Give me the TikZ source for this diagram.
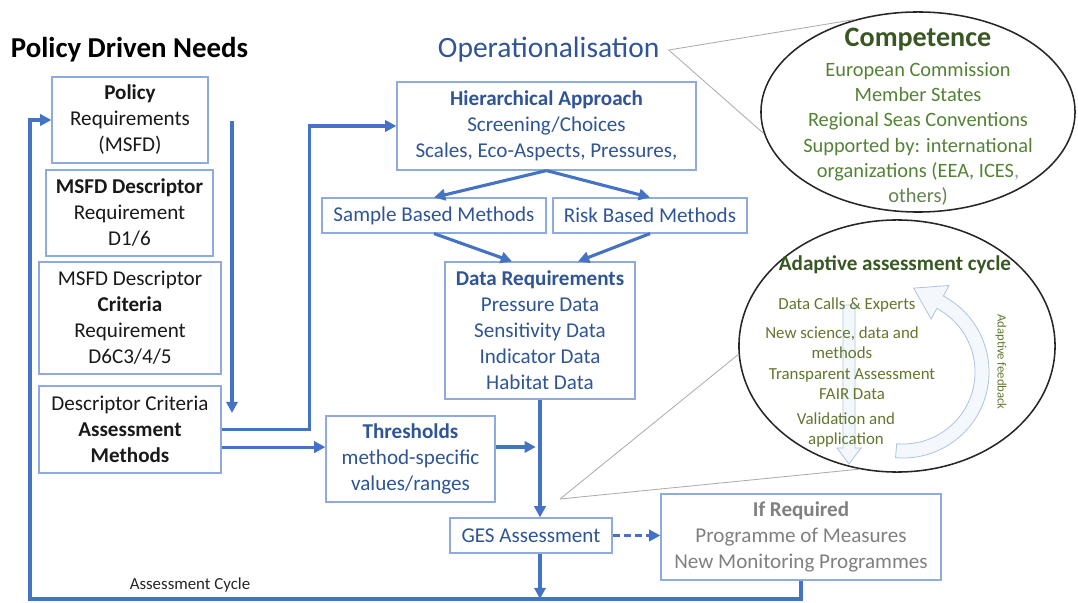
\documentclass[tikz,border=0pt]{standalone}
\usepackage{fontspec}
\setmainfont{Carlito}
\usetikzlibrary{arrows.meta, shapes.geometric, calc}

\definecolor{flowblue}{RGB}{68,114,196}
\definecolor{boxline}{RGB}{143,170,220}
\definecolor{opblue}{RGB}{47,85,151}
\definecolor{compgreen}{RGB}{84,130,53}
\definecolor{compdark}{RGB}{56,87,35}
\definecolor{cycgreen}{RGB}{98,118,45}
\definecolor{hollowline}{RGB}{176,196,230}
\definecolor{hollowfill}{RGB}{244,247,252}

\tikzset{
  box/.style={draw=boxline, line width=0.8pt, fill=white, align=center, inner sep=2pt,
              font=\fontsize{15}{18.5}\selectfont},
  needbox/.style={box, text=black!90},
  opbox/.style={box, text=opblue},
  flow/.style={draw=flowblue, line width=2.2pt},
  callout/.style={draw=gray!65, line width=0.6pt},
  bubble/.style={ellipse, draw=black!85, line width=1.1pt, inner sep=0pt},
  hollow/.style={draw=hollowline, fill=hollowfill, line width=0.6pt},
  cyc/.style={align=center, text=cycgreen, font=\fontsize{12}{14}\selectfont},
  >={Triangle[length=8pt,width=8pt]}
}

\begin{document}
\begin{tikzpicture}[x=0.025cm, y=-0.025cm]
\useasboundingbox (0,0) rectangle (1078,603);

% headings
\node[anchor=west, font=\fontsize{20.5}{24}\selectfont\bfseries] (pdn) at (6,50) {Policy Driven Needs};
\node[anchor=west, text=opblue, font=\fontsize{21}{24}\selectfont] (opl) at (433,50) {Operationalisation};

% policy driven column
\node[needbox, minimum width=3.9cm, minimum height=2.15cm] (policy) at (130,120)
  {\textbf{Policy}\\Requirements\\(MSFD)};
\node[needbox, minimum width=4.175cm, minimum height=2.15cm] (descr) at (129.5,213)
  {\textbf{MSFD Descriptor}\\Requirement\\D1/6};
\node[needbox, minimum width=4.55cm, minimum height=2.8cm] (crit) at (130,318)
  {MSFD Descriptor\\\textbf{Criteria}\\Requirement\\D6C3/4/5};
\node[needbox, minimum width=4.55cm, minimum height=2.175cm] (assess) at (130,429.5)
  {Descriptor Criteria\\\textbf{Assessment}\\\textbf{Methods}};

% operationalisation
\node[opbox, minimum width=7.475cm, minimum height=2.2cm] (hier) at (546.5,126)
  {\textbf{Hierarchical Approach}\\Screening/Choices\\Scales, Eco-Aspects, Pressures,};
\node[opbox, minimum width=5.6cm, minimum height=0.875cm] (sample) at (434,215.5) {Sample Based Methods};
\node[opbox, minimum width=4.85cm, minimum height=0.875cm] (risk) at (650,215.5) {Risk Based Methods};
\node[opbox, minimum width=4.75cm, minimum height=3.425cm] (datareq) at (540,330.5)
  {\textbf{Data Requirements}\\Pressure Data\\Sensitivity Data\\Indicator Data\\Habitat Data};
\node[opbox, minimum width=4.225cm, minimum height=2.15cm] (thresh) at (410.5,459)
  {\textbf{Thresholds}\\method-specific\\values/ranges};
\node[opbox, minimum width=4.05cm, minimum height=0.875cm] (ges) at (531,535.5) {GES Assessment};
\node[box, text=black!50, minimum width=7cm, minimum height=2.15cm] (ifreq) at (801,537)
  {\textbf{If Required}\\Programme of Measures\\New Monitoring Programmes};

\node[font=\fontsize{12}{14}\selectfont, text=black!85] (cyclbl) at (190,585) {Assessment Cycle};

% connectors
\coordinate (dtop) at (232,121);
\coordinate (dbot) at (232,413);
\coordinate (loopb) at (30,599);
\draw[flow,->] (dtop) -- (dbot);
\draw[flow,->] (assess.east) -- ++(2.2cm,0) |- (hier.west);
\draw[flow,->] ([yshift=-0.44cm]assess.east) -- ([yshift=-0.44cm]assess.east -| thresh.west);
\draw[flow,->] (hier.south) -- (sample.north);
\draw[flow,->] (hier.south) -- (risk.north);
\draw[flow,->] (sample.south) -- ([xshift=-0.7cm]datareq.north);
\draw[flow,->] (risk.south) -- ([xshift=0.95cm]datareq.north);
\draw[flow,->] (datareq.south) -- (datareq.south |- ges.north);
\draw[flow,->, shorten >=3pt] ([yshift=0.3cm]thresh.east) -- ([yshift=0.3cm]thresh.east -| datareq.south);
\draw[flow,->] (ges.south -| datareq.south) -- (loopb -| datareq.south);
\draw[flow,->, dashed, dash pattern=on 5pt off 3pt] (ges.east) -- (ges.east -| ifreq.west);
\draw[flow,->] (ifreq.south) |- (loopb) |- (policy.west);

% competence bubble
\node[bubble, minimum width=7.85cm, minimum height=5cm] (comp) at (918,112) {};
\node[align=center, text=compgreen, font=\fontsize{14.5}{18}\selectfont] (comptxt) at (918,117)
  {{\fontsize{20}{22}\selectfont\bfseries\color{compdark}Competence}\\[3pt]
   European Commission\\Member States\\Regional Seas Conventions\\
   Supported by: international\\organizations (EEA, ICES\textcolor{black!40}{,}\\
   \textcolor{compgreen!60!gray}{others)}};
\draw[callout] ([xshift=3pt]opl.east) -- (comp.124);
\draw[callout] ([xshift=3pt]opl.east) -- (comp.188);

% adaptive assessment bubble
\node[bubble, minimum width=7.9cm, minimum height=6.3cm] (adapt) at (897,346) {};
\coordinate (apex) at (560,499);
\draw[callout] (apex) -- (adapt.183);
\draw[callout] (apex) -- (adapt.253);

\draw[hollow] (843,305) -- (855,305) -- (855,448) -- (861,448) -- (849,464) -- (837,448) -- (843,448) -- cycle;
\coordinate (fb) at (903,372);
\draw[hollow] ($(fb)+(-95:2.15cm)$) arc[start angle=-95, end angle=62, radius=2.15cm]
  -- ($(fb)+(62:2.45cm)$) -- ($(fb)+(62:1.975cm)+(152:0.75cm)$) -- ($(fb)+(62:1.5cm)$)
  -- ($(fb)+(62:1.8cm)$) arc[start angle=62, end angle=-95, radius=1.8cm] -- cycle;

\node[text=compdark, font=\fontsize{15}{18}\selectfont\bfseries] (adtitle) at (895,265) {Adaptive assessment cycle};
\node[cyc] (c1) at (847,305) {Data Calls \& Experts};
\node[cyc] (c2) at (842,343) {New science, data and\\methods};
\node[cyc] (c3) at (852,384) {Transparent Assessment\\FAIR Data};
\node[cyc] (c4) at (846,430) {Validation and\\application};
\node[rotate=-90, text=cycgreen, font=\fontsize{9}{10}\selectfont] (afb) at (1001,362) {Adaptive feedback};
\end{tikzpicture}
\end{document}
